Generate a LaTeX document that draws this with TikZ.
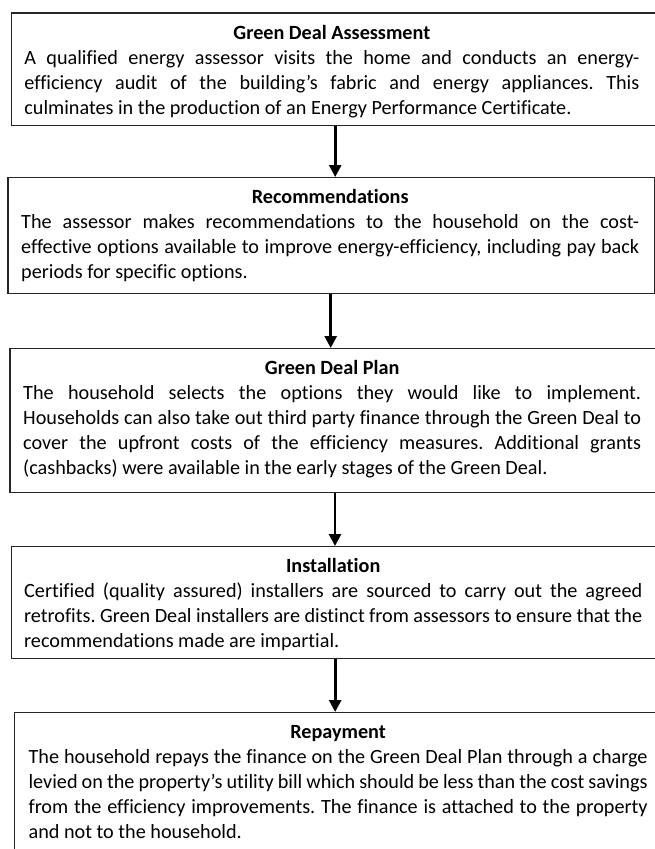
\documentclass[tikz,border=0pt]{standalone}
\usepackage{fontspec}
\setmainfont{Carlito}[Ligatures={NoCommon}]
\usetikzlibrary{arrows.meta}
\newcommand\jline[1]{\hbox to \hsize{#1}}
\newcommand\eline[1]{\hbox{#1}}
\newcommand\tline[1]{\hbox to \hsize{\hfil\bfseries\rule{0pt}{16pt}#1\hfil}}
\newcommand\txtfont{\fontsize{20.2}{25}\selectfont\frenchspacing\spaceskip=0.226em plus 1em minus 0.08em\relax}
\tikzset{
  boxst/.style={draw=black!85, line width=1.3pt, rectangle, inner sep=0pt, anchor=north west},
  txtst/.style={inner sep=0pt, anchor=north west, text=black, font=\txtfont},
  arr/.style={line width=2.7pt, -{Triangle[length=12pt,width=12pt]}, black}
}
\begin{document}
\begin{tikzpicture}[x=1pt,y=-1pt]
\useasboundingbox (0,0) rectangle (655,849);
\fill[white] (0,0) rectangle (655,849);
% boxes
\node[boxst, minimum width=645.3pt, minimum height=112.2pt] (b1) at (10.7,12.3) {};
\node[boxst, minimum width=646.7pt, minimum height=116pt] (b2) at (7.3,177) {};
\node[boxst, minimum width=647.7pt, minimum height=144pt] (b3) at (9.3,348) {};
\node[boxst, minimum width=646pt, minimum height=112pt] (b4) at (11,546) {};
\node[boxst, minimum width=646pt, minimum height=160pt] (b5) at (14,712) {};
% texts
\node[txtst] (t1) at (24.2,22.8) {\vbox{\hsize=615pt\txtfont
\tline{Green Deal Assessment}
\jline{A qualified energy assessor visits the home and conducts an energy-}
\jline{efficiency audit of the building’s fabric and energy appliances. This}
\eline{culminates in the production of an Energy Performance Certificate.}}};
\node[txtst] (t2) at (21,187.5) {\vbox{\hsize=618pt\txtfont
\tline{Recommendations}
\jline{The assessor makes recommendations to the household on the cost-}
\jline{effective options available to improve energy-efficiency, including pay back}
\eline{periods for specific options.}}};
\node[txtst] (t3) at (23,358.5) {\vbox{\hsize=618pt\txtfont
\tline{Green Deal Plan}
\jline{The household selects the options they would like to implement.}
\jline{Households can also take out third party finance through the Green Deal to}
\jline{cover the upfront costs of the efficiency measures. Additional grants}
\eline{(cashbacks) were available in the early stages of the Green Deal.}}};
\node[txtst] (t4) at (24,556.5) {\vbox{\hsize=618pt\txtfont
\tline{Installation}
\jline{Certified (quality assured) installers are sourced to carry out the agreed}
\jline{retrofits. Green Deal installers are distinct from assessors to ensure that the}
\eline{recommendations made are impartial.}}};
\node[txtst] (t5) at (28.4,722.5) {\vbox{\hsize=619pt\txtfont
\tline{Repayment}
\jline{The household repays the finance on the Green Deal Plan through a charge}
\jline{levied on the property’s utility bill which should be less than the cost savings}
\jline{from the efficiency improvements. The finance is attached to the property}
\eline{and not to the household.}}};
% arrows
\draw[arr] ([xshift=1.2pt]b1.south) -- ([xshift=1.2pt]b1.south |- b2.north);
\draw[arr] ([xshift=-0.6pt]b2.south) -- ([xshift=-0.6pt]b2.south |- b3.north);
\draw[arr] ([xshift=1.2pt]b3.south) -- ([xshift=1.2pt]b3.south |- b4.north);
\draw[arr] ([xshift=0.5pt]b4.south) -- ([xshift=0.5pt]b4.south |- b5.north);
\end{tikzpicture}
\end{document}
